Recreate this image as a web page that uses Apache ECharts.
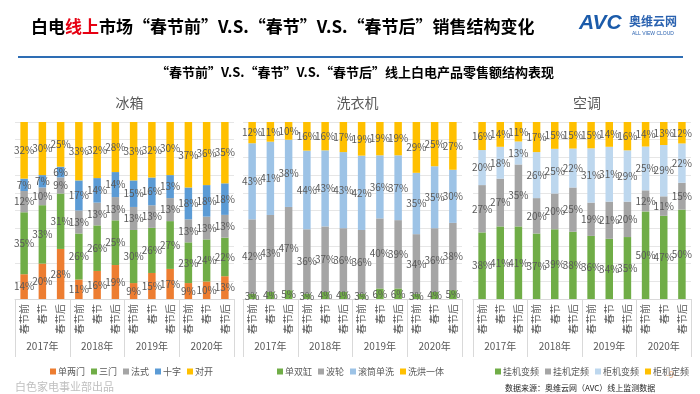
<!DOCTYPE html>
<html>
<head>
<meta charset="utf-8">
<script src="https://cdn.jsdelivr.net/npm/echarts@6/dist/echarts.min.js"></script>
<style>html,body{margin:0;padding:0;background:#fff;}#c{width:700px;height:394px;}</style>
</head>
<body>
<div id="c"></div>
<script>
const periods = ['春节前', '春节', '春节后'];
const years = ['2017年', '2018年', '2019年', '2020年'];

// 冰箱
const fridgeNames = ['单两门', '三门', '法式', '十字', '对开'];
const fridgeSingleDouble = [14, 20, 28, 11, 16, 19, 9, 15, 17, 9, 10, 13];
const fridgeThreeDoor = [35, 33, 31, 26, 26, 25, 30, 26, 27, 23, 24, 22];
const fridgeFrench = [12, 10, 9, 13, 13, 13, 13, 13, 13, 13, 13, 13];
const fridgeCross = [7, 7, 6, 17, 14, 14, 15, 16, 13, 18, 18, 18];
const fridgeSideBySide = [32, 30, 25, 33, 32, 28, 33, 32, 30, 37, 36, 35];

// 洗衣机
const washerNames = ['单双缸', '波轮', '滚筒单洗', '洗烘一体'];
const washerTwinTub = [3, 4, 5, 3, 4, 4, 3, 6, 6, 3, 4, 5];
const washerPulsator = [42, 43, 47, 36, 37, 36, 36, 40, 39, 34, 36, 38];
const washerDrum = [43, 41, 38, 44, 43, 43, 42, 36, 37, 35, 35, 30];
const washerDryer = [12, 11, 10, 16, 16, 17, 19, 19, 19, 29, 25, 27];

// 空调
const acNames = ['挂机变频', '挂机定频', '柜机变频', '柜机定频'];
const acWallInverter = [38, 41, 41, 37, 39, 38, 36, 34, 35, 50, 47, 50];
const acWallFixed = [27, 27, 35, 20, 20, 25, 19, 21, 20, 12, 11, 15];
const acFloorInverter = [20, 18, 13, 26, 25, 22, 31, 31, 29, 25, 29, 22];
const acFloorFixed = [16, 14, 11, 17, 15, 15, 15, 14, 16, 14, 13, 12];

const categories = [];
years.forEach(() => periods.forEach(p => categories.push(p)));

const FONT = "'Microsoft YaHei','Noto Sans CJK SC',sans-serif";
const GRAY = '#595959';

const panels = [
  { title: '冰箱', left: 15, width: 219, names: fridgeNames,
    data: [fridgeSingleDouble, fridgeThreeDoor, fridgeFrench, fridgeCross, fridgeSideBySide],
    colors: ['#ED7D31', '#70AD47', '#A5A5A5', '#5B9BD5', '#FFC000'], legendLeft: 45 },
  { title: '洗衣机', left: 243, width: 219, names: washerNames,
    data: [washerTwinTub, washerPulsator, washerDrum, washerDryer],
    colors: ['#70AD47', '#A5A5A5', '#9DC3E6', '#FFC000'], legendLeft: 272 },
  { title: '空调', left: 473, width: 218, names: acNames,
    data: [acWallInverter, acWallFixed, acFloorInverter, acFloorFixed],
    colors: ['#70AD47', '#A5A5A5', '#BDD7EE', '#FFC000'], legendLeft: 490 }
];

const grid = [], xAxis = [], yAxis = [], series = [], legend = [], titles = [];
panels.forEach((p, gi) => {
  grid.push({ left: p.left, width: p.width, top: 122, height: 177 });
  xAxis.push({
    type: 'category', gridIndex: gi, data: categories, position: 'bottom',
    axisLine: { show: true, lineStyle: { color: '#D9D9D9' } },
    axisTick: { show: false },
    axisLabel: { interval: 0, rotate: 90, color: GRAY, fontSize: 10, fontFamily: FONT, margin: 5 }
  });
  xAxis.push({
    type: 'category', gridIndex: gi, data: years, position: 'bottom', offset: 58,
    axisLine: { show: false },
    axisTick: { show: true, inside: true, length: 58, lineStyle: { color: '#D9D9D9' } },
    axisLabel: { color: GRAY, fontSize: 10, fontFamily: FONT, margin: -16 }
  });
  yAxis.push({
    type: 'value', gridIndex: gi, min: 0, max: 100, interval: 10,
    axisLabel: { show: false }, axisLine: { show: false }, axisTick: { show: false },
    splitLine: { lineStyle: { color: '#E6E6E6' } }
  });
  const totals = categories.map((_, i) => p.data.reduce((s, arr) => s + arr[i], 0));
  p.data.forEach((arr, si) => {
    series.push({
      name: p.names[si], type: 'bar', stack: 'g' + gi,
      xAxisIndex: gi * 2, yAxisIndex: gi, barWidth: 7.5,
      itemStyle: { color: p.colors[si] },
      label: {
        show: true, position: 'inside', color: GRAY, fontSize: 10, fontFamily: FONT,
        formatter: (prm) => arr[prm.dataIndex] + '%'
      },
      data: arr.map((v, i) => v / totals[i] * 100)
    });
  });
  legend.push({
    data: p.names, left: p.legendLeft, top: 362, width: 260, icon: 'rect', itemWidth: 6, itemHeight: 6, itemGap: 6,
    textStyle: { color: GRAY, fontSize: 9, fontFamily: FONT, padding: [0, 0, 0, -3] },
    selectedMode: false
  });
  titles.push({
    text: p.title, left: p.left + p.width / 2, top: 91, textAlign: 'center',
    textStyle: { color: GRAY, fontSize: 14, fontWeight: 'normal', fontFamily: FONT }
  });
});

titles.push({
  text: '{a|白电}{r|线上}{a|市场“春节前”V.S.“春节”V.S.“春节后”销售结构变化}',
  left: 26, top: 13,
  textStyle: {
    rich: {
      a: { fontSize: 17, fontWeight: 'bold', color: '#000', fontFamily: FONT },
      r: { fontSize: 17, fontWeight: 'bold', color: '#E60012', fontFamily: FONT }
    }
  }
});
titles.push({
  text: '“春节前”V.S.“春节”V.S.“春节后”线上白电产品零售额结构表现',
  left: 350, top: 61, textAlign: 'center',
  textStyle: { fontSize: 13, fontWeight: 'bold', color: '#000', fontFamily: FONT }
});
titles.push({
  text: '白色家电事业部出品', left: 10, top: 376,
  textStyle: { fontSize: 11, fontWeight: 'normal', color: '#BFBFBF', fontFamily: FONT }
});
titles.push({
  text: '数据来源：奥维云网（AVC）线上监测数据', left: 500, top: 379,
  textStyle: { fontSize: 8, fontWeight: 'normal', color: '#262626', fontFamily: FONT }
});

const chart = echarts.init(document.getElementById('c'), null, { renderer: 'canvas' });
chart.setOption({
  backgroundColor: '#fff',
  animation: false,
  title: titles,
  grid, xAxis, yAxis, series, legend,
  graphic: [
    { type: 'line', shape: { x1: 18, y1: 57, x2: 683, y2: 57 }, style: { stroke: '#2E6DB4', lineWidth: 2 } },
    { type: 'text', left: 579, top: 13, style: { text: 'AVC', fontSize: 21, fontWeight: 'bold', fontStyle: 'italic', fill: '#1B5BAA', fontFamily: 'Liberation Sans' } },
    { type: 'text', left: 629, top: 15, style: { text: '奥维云网', fontSize: 12, fontWeight: 'bold', fill: '#2A62B0', fontFamily: FONT } },
    { type: 'text', left: 632, top: 31, style: { text: 'ALL VIEW CLOUD', fontSize: 5, fill: '#2A62B0', fontFamily: 'Liberation Sans' } },
    { type: 'text', left: 666, top: 370, style: { text: '-9-', fontSize: 9, fill: '#F4B183', fontFamily: FONT } }
  ]
});
</script>
</body>
</html>
